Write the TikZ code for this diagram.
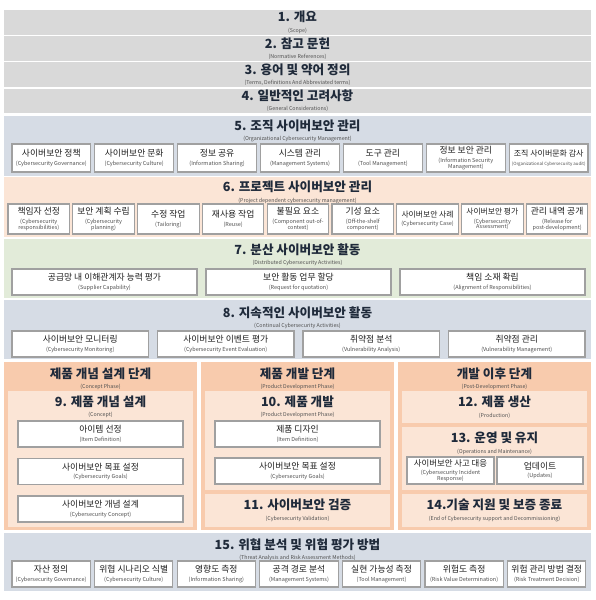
\documentclass[tikz,border=0pt]{standalone}
\usepackage{fontspec}
\setmainfont{Noto Sans CJK KR}
\definecolor{ISOgray}{RGB}{217,217,217}
\definecolor{ISOblue}{RGB}{214,220,229}
\definecolor{ISOpeach}{RGB}{251,229,214}
\definecolor{ISOgreen}{RGB}{226,235,217}
\definecolor{ISOorange}{RGB}{248,203,173}
\definecolor{ISOline}{RGB}{160,160,160}
\definecolor{ISOnavy}{RGB}{31,42,58}
\definecolor{ISOtext}{RGB}{30,30,30}
\definecolor{ISOsub}{RGB}{80,80,80}
\tikzset{
  band/.style={rectangle,inner sep=0pt,draw=none,align=center,text=ISOnavy,
               font=\fontsize{12.6}{10.5}\selectfont\bfseries},
  head/.style={inner sep=0pt,align=center,text=ISOnavy,
               font=\fontsize{12.6}{10.5}\selectfont\bfseries},
  item/.style={rectangle,draw=ISOline,line width=1.1pt,fill=white,inner sep=1pt,
               align=center,text=ISOtext,font=\fontsize{8.8}{8.8}\selectfont},
  rowfive/.style={item,minimum width=78.6pt,minimum height=28pt},
  rowsix/.style={item,minimum width=61.5pt,minimum height=30pt},
  rowseven/.style={item,minimum width=185pt,minimum height=26pt},
  roweight/.style={item,minimum width=136.5pt,minimum height=26pt},
  rowlast/.style={item,minimum width=78.3pt,minimum height=26pt},
  stepbox/.style={item,minimum width=165pt,minimum height=26pt},
}
\newcommand{\subtag}[1]{\\{\fontsize{5.3}{5.3}\selectfont\mdseries\color{ISOsub}#1}}
\newcommand{\itemsub}[1]{\\{\fontsize{5.5}{5.5}\selectfont\color{ISOsub}#1}}
\newcommand{\itemsubii}[2]{\\{\fontsize{5.5}{5.5}\selectfont\color{ISOsub}#1}%
  \\[-3pt]{\fontsize{5.5}{5.5}\selectfont\color{ISOsub}#2}}

\begin{document}
\begin{tikzpicture}[x=1pt,y=-1pt]
    \useasboundingbox (0,0) rectangle (596,600);
    % general clauses
    \node[band,fill=ISOgray,minimum width=587pt,minimum height=24.6pt] (s1) at (297.5,22.3) {1. 개요\subtag{(Scope)}};
    \node[band,fill=ISOgray,minimum width=587pt,minimum height=24.6pt] (s2) at (297.5,48.5) {2. 참고 문헌\subtag{(Normative References)}};
    \node[band,fill=ISOgray,minimum width=587pt,minimum height=24.6pt] (s3) at (297.5,74.7) {3. 용어 및 약어 정의\subtag{(Terms, Definitions And Abbreviated terms)}};
    \node[band,fill=ISOgray,minimum width=587pt,minimum height=24.6pt] (s4) at (297.5,100.9) {4. 일반적인 고려사항\subtag{(General Considerations)}};

    % clause 5
    \node[band,fill=ISOblue,minimum width=587pt,minimum height=60pt] (s5) at (297.5,145.5) {};
    \node[head] (h5) at (297.5,131) {5. 조직 사이버보안 관리\subtag{(Organizational Cybersecurity Management)}};
    \node[rowfive] (o1) at (51.3,158) {사이버보안 정책\itemsub{(Cybersecurity Governance)}};
    \node[rowfive] (o2) at (134.2,158) {사이버보안 문화\itemsub{(Cybersecurity Culture)}};
    \node[rowfive] (o3) at (217.1,158) {정보 공유\itemsub{(Information Sharing)}};
    \node[rowfive] (o4) at (300.0,158) {시스템 관리\itemsub{(Management Systems)}};
    \node[rowfive] (o5) at (382.9,158) {도구 관리\itemsub{(Tool Management)}};
    \node[rowfive] (o6) at (465.8,158) {정보 보안 관리\itemsubii{(Information Security}{Management)}};
    \node[rowfive,font=\fontsize{8}{8.6}\selectfont] (o7) at (548.7,158) {조직 사이버문화 감사\\{\fontsize{4.4}{4.4}\selectfont\color{ISOsub}(Organizational Cybersecurity audit)}};

    % clause 6
    \node[band,fill=ISOpeach,minimum width=587pt,minimum height=59.5pt] (s6) at (297.5,206.75) {};
    \node[head] (h6) at (297.5,192.5) {6. 프로젝트 사이버보안 관리\subtag{(Project dependent cybersecurity management)}};
    \node[rowsix] (p1) at (38.75,219) {책임자 선정\itemsubii{(Cybersecurity}{responsibilities)}};
    \node[rowsix] (p2) at (103.55,219) {보안 계획 수립\itemsubii{(Cybersecurity}{planning)}};
    \node[rowsix] (p3) at (168.35,219) {수정 작업\itemsub{(Tailoring)}};
    \node[rowsix] (p4) at (233.15,219) {재사용 작업\itemsub{(Reuse)}};
    \node[rowsix] (p5) at (297.95,219) {불필요 요소\itemsubii{(Component out-of-}{context)}};
    \node[rowsix] (p6) at (362.75,219) {기성 요소\itemsubii{(Off-the-shelf}{component)}};
    \node[rowsix,font=\fontsize{7.8}{8.6}\selectfont] (p7) at (427.55,219) {사이버보안 사례\itemsub{(Cybersecurity Case)}};
    \node[rowsix,font=\fontsize{7.8}{8.6}\selectfont] (p8) at (492.35,219) {사이버보안 평가\itemsubii{(Cybersecurity}{Assessment)}};
    \node[rowsix] (p9) at (557.15,219) {관리 내역 공개\itemsubii{(Release for}{post-development)}};

    % clause 7
    \node[band,fill=ISOgreen,minimum width=587pt,minimum height=59.5pt] (s7) at (297.5,268.25) {};
    \node[head] (h7) at (297.5,255) {7. 분산 사이버보안 활동\subtag{(Distributed Cybersecurity Activities)}};
    \node[rowseven] (d1) at (104.5,282) {공급망 내 이해관계자 능력 평가\itemsub{(Supplier Capability)}};
    \node[rowseven] (d2) at (298.5,282) {보안 활동 업무 할당\itemsub{(Request for quotation)}};
    \node[rowseven] (d3) at (492.5,282) {책임 소재 확립\itemsub{(Alignment of Responsibilities)}};

    % clause 8
    \node[band,fill=ISOblue,minimum width=587pt,minimum height=59pt] (s8) at (297.5,329.5) {};
    \node[head] (h8) at (297.5,318) {8. 지속적인 사이버보안 활동\subtag{(Continual Cybersecurity Activities)}};
    \node[roweight] (c1) at (80.25,344) {사이버보안 모니터링\itemsub{(Cybersecurity Monitoring)}};
    \node[roweight] (c2) at (225.75,344) {사이버보안 이벤트 평가\itemsub{(Cybersecurity Event Evaluation)}};
    \node[roweight] (c3) at (371.25,344) {취약점 분석\itemsub{(Vulnerability Analysis)}};
    \node[roweight] (c4) at (516.75,344) {취약점 관리\itemsub{(Vulnerability Management)}};

    % lifecycle phases
    \node[band,fill=ISOorange,minimum width=193pt,minimum height=168pt] (concept) at (100.5,446) {};
    \node[band,fill=ISOorange,minimum width=193pt,minimum height=168pt] (devel) at (297.5,446) {};
    \node[band,fill=ISOorange,minimum width=193pt,minimum height=168pt] (post) at (494.5,446) {};
    \node[head] (hc) at (100.5,379) {제품 개념 설계 단계\subtag{(Concept Phase)}};
    \node[head] (hd) at (297.5,379) {제품 개발 단계\subtag{(Product Development Phase)}};
    \node[head] (hp) at (494.5,379) {개발 이후 단계\subtag{(Post-Development Phase)}};

    \node[band,fill=ISOpeach,minimum width=185pt,minimum height=136pt] (s9) at (100.5,459) {};
    \node[head] (h9) at (100.5,407) {9. 제품 개념 설계\subtag{(Concept)}};
    \node[stepbox] (k1) at (100.5,434) {아이템 선정\itemsub{(Item Definition)}};
    \node[stepbox] (k2) at (100.5,471.5) {사이버보안 목표 설정\itemsub{(Cybersecurity Goals)}};
    \node[stepbox] (k3) at (100.5,509) {사이버보안 개념 설계\itemsub{(Cybersecurity Concept)}};

    \node[band,fill=ISOpeach,minimum width=185pt,minimum height=99pt] (s10) at (297.5,440.5) {};
    \node[head] (h10) at (297.5,407) {10. 제품 개발\subtag{(Product Development Phase)}};
    \node[stepbox] (v1) at (297.5,434) {제품 디자인\itemsub{(Item Definition)}};
    \node[stepbox] (v2) at (297.5,471) {사이버보안 목표 설정\itemsub{(Cybersecurity Goals)}};
    \node[band,fill=ISOpeach,minimum width=185pt,minimum height=33pt] (s11) at (297.5,510.5) {11. 사이버보안 검증\subtag{(Cybersecurity Validation)}};

    \node[band,fill=ISOpeach,minimum width=185pt,minimum height=32pt] (s12) at (494.5,407) {12. 제품 생산\subtag{(Production)}};
    \node[band,fill=ISOpeach,minimum width=185pt,minimum height=63pt] (s13) at (494.5,458.5) {};
    \node[head] (h13) at (494.5,443.5) {13. 운영 및 유지\subtag{(Operations and Maintenance)}};
    \node[item,minimum width=87pt,minimum height=27pt,font=\fontsize{8.4}{8.6}\selectfont] (m1) at (450.5,470.5) {사이버보안 사고 대응\itemsubii{(Cybersecurity Incident}{Response)}};
    \node[item,minimum width=86pt,minimum height=27pt] (m2) at (540,470.5) {업데이트\itemsub{(Updates)}};
    \node[band,fill=ISOpeach,minimum width=185pt,minimum height=33pt] (s14) at (494.5,510.5) {14.기술 지원 및 보증 종료\subtag{(End of Cybersecurity support and Decommissioning)}};

    % clause 15
    \node[band,fill=ISOblue,minimum width=587pt,minimum height=58pt] (s15) at (297.5,562) {};
    \node[head] (h15) at (297.5,550) {15. 위협 분석 및 위험 평가 방법\subtag{(Threat Analysis and Risk Assessment Methods)}};
    \node[rowlast] (t1) at (51.15,574) {자산 정의\itemsub{(Cybersecurity Governance)}};
    \node[rowlast] (t2) at (133.75,574) {위협 시나리오 식별\itemsub{(Cybersecurity Culture)}};
    \node[rowlast] (t3) at (216.35,574) {영향도 측정\itemsub{(Information Sharing)}};
    \node[rowlast] (t4) at (298.95,574) {공격 경로 분석\itemsub{(Management Systems)}};
    \node[rowlast] (t5) at (381.55,574) {실현 가능성 측정\itemsub{(Tool Management)}};
    \node[rowlast] (t6) at (464.15,574) {위험도 측정\itemsub{(Risk Value Determination)}};
    \node[rowlast] (t7) at (546.75,574) {위험 관리 방법 결정\itemsub{(Risk Treatment Decision)}};
  \end{tikzpicture}
\end{document}
